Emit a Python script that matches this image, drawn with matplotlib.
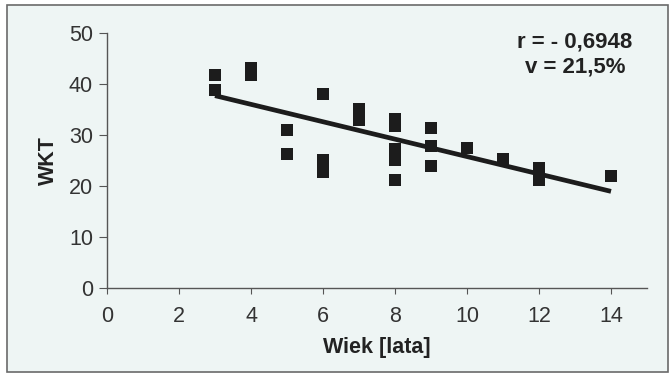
import numpy as np
import matplotlib
matplotlib.use("Agg")
import matplotlib.pyplot as plt
from matplotlib.patches import Rectangle

plt.rcParams["font.family"] = ["Liberation Sans", "DejaVu Sans"]

# Wiek [lata] vs WKT
wiek = [3, 3, 4, 4, 5, 5, 6, 6, 6, 7, 7, 8, 8, 8, 8, 8, 9, 9, 9, 10, 11, 12, 12, 14]
wkt = [41.7, 38.8, 43.2, 41.8, 30.9, 26.3, 38.0, 25.0, 22.8, 35.1, 32.9,
       33.2, 31.8, 27.2, 25.0, 21.2, 31.4, 27.9, 24.0, 27.5, 25.3, 23.5, 21.1, 21.9]
x_ticks = [0, 2, 4, 6, 8, 10, 12, 14]
y_ticks = [0, 10, 20, 30, 40, 50]

bg = "#eef5f4"
ink = "#1c1c1c"

fig = plt.figure(figsize=(6.72, 3.77), dpi=100)
fig.patch.set_facecolor("white")
fig.patches.append(Rectangle((7 / 672, 1 - 372 / 377), 661 / 672, 367 / 377,
                             transform=fig.transFigure, facecolor=bg,
                             edgecolor="#6a6a6a", linewidth=1.2, zorder=-1))

ax = fig.add_axes([107 / 672, 1 - 288 / 377, 540 / 672, 255 / 377])
ax.set_facecolor(bg)
ax.patch.set_alpha(0)

ax.scatter(wiek, wkt, marker="s", s=70, color=ink, linewidths=0, zorder=3)

# linia regresji
b, a = np.polyfit(wiek, wkt, 1)
xl = np.array([min(wiek), max(wiek)])
ax.plot(xl, a + b * xl, color=ink, linewidth=3.4, solid_capstyle="butt", zorder=4)

ax.set_xlim(0, 15)
ax.set_ylim(0, 50)
ax.set_xticks(x_ticks)
ax.set_yticks(y_ticks)
for s in ["top", "right"]:
    ax.spines[s].set_visible(False)
for s in ["left", "bottom"]:
    ax.spines[s].set_color("#555555")
    ax.spines[s].set_linewidth(1.0)
ax.spines["left"].set_bounds(0, 50)
ax.tick_params(axis="y", direction="out", length=6, color="#555555",
               labelsize=15.5, labelcolor="#333333", pad=4)
ax.tick_params(axis="x", direction="out", length=4, color="#555555",
               labelsize=15.5, labelcolor="#333333", pad=9)

ax.set_xlabel("Wiek [lata]", fontsize=15.5, fontweight="bold", color="#222222", labelpad=7)
ax.set_ylabel("WKT", fontsize=15.5, fontweight="bold", color="#222222", labelpad=7)

ax.text(13.0, 50.3, "r = - 0,6948\nv = 21,5%", fontsize=16, fontweight="bold",
        color="#222222", ha="center", va="top", linespacing=1.25)

fig.savefig("out.png", dpi=100, facecolor="white")
